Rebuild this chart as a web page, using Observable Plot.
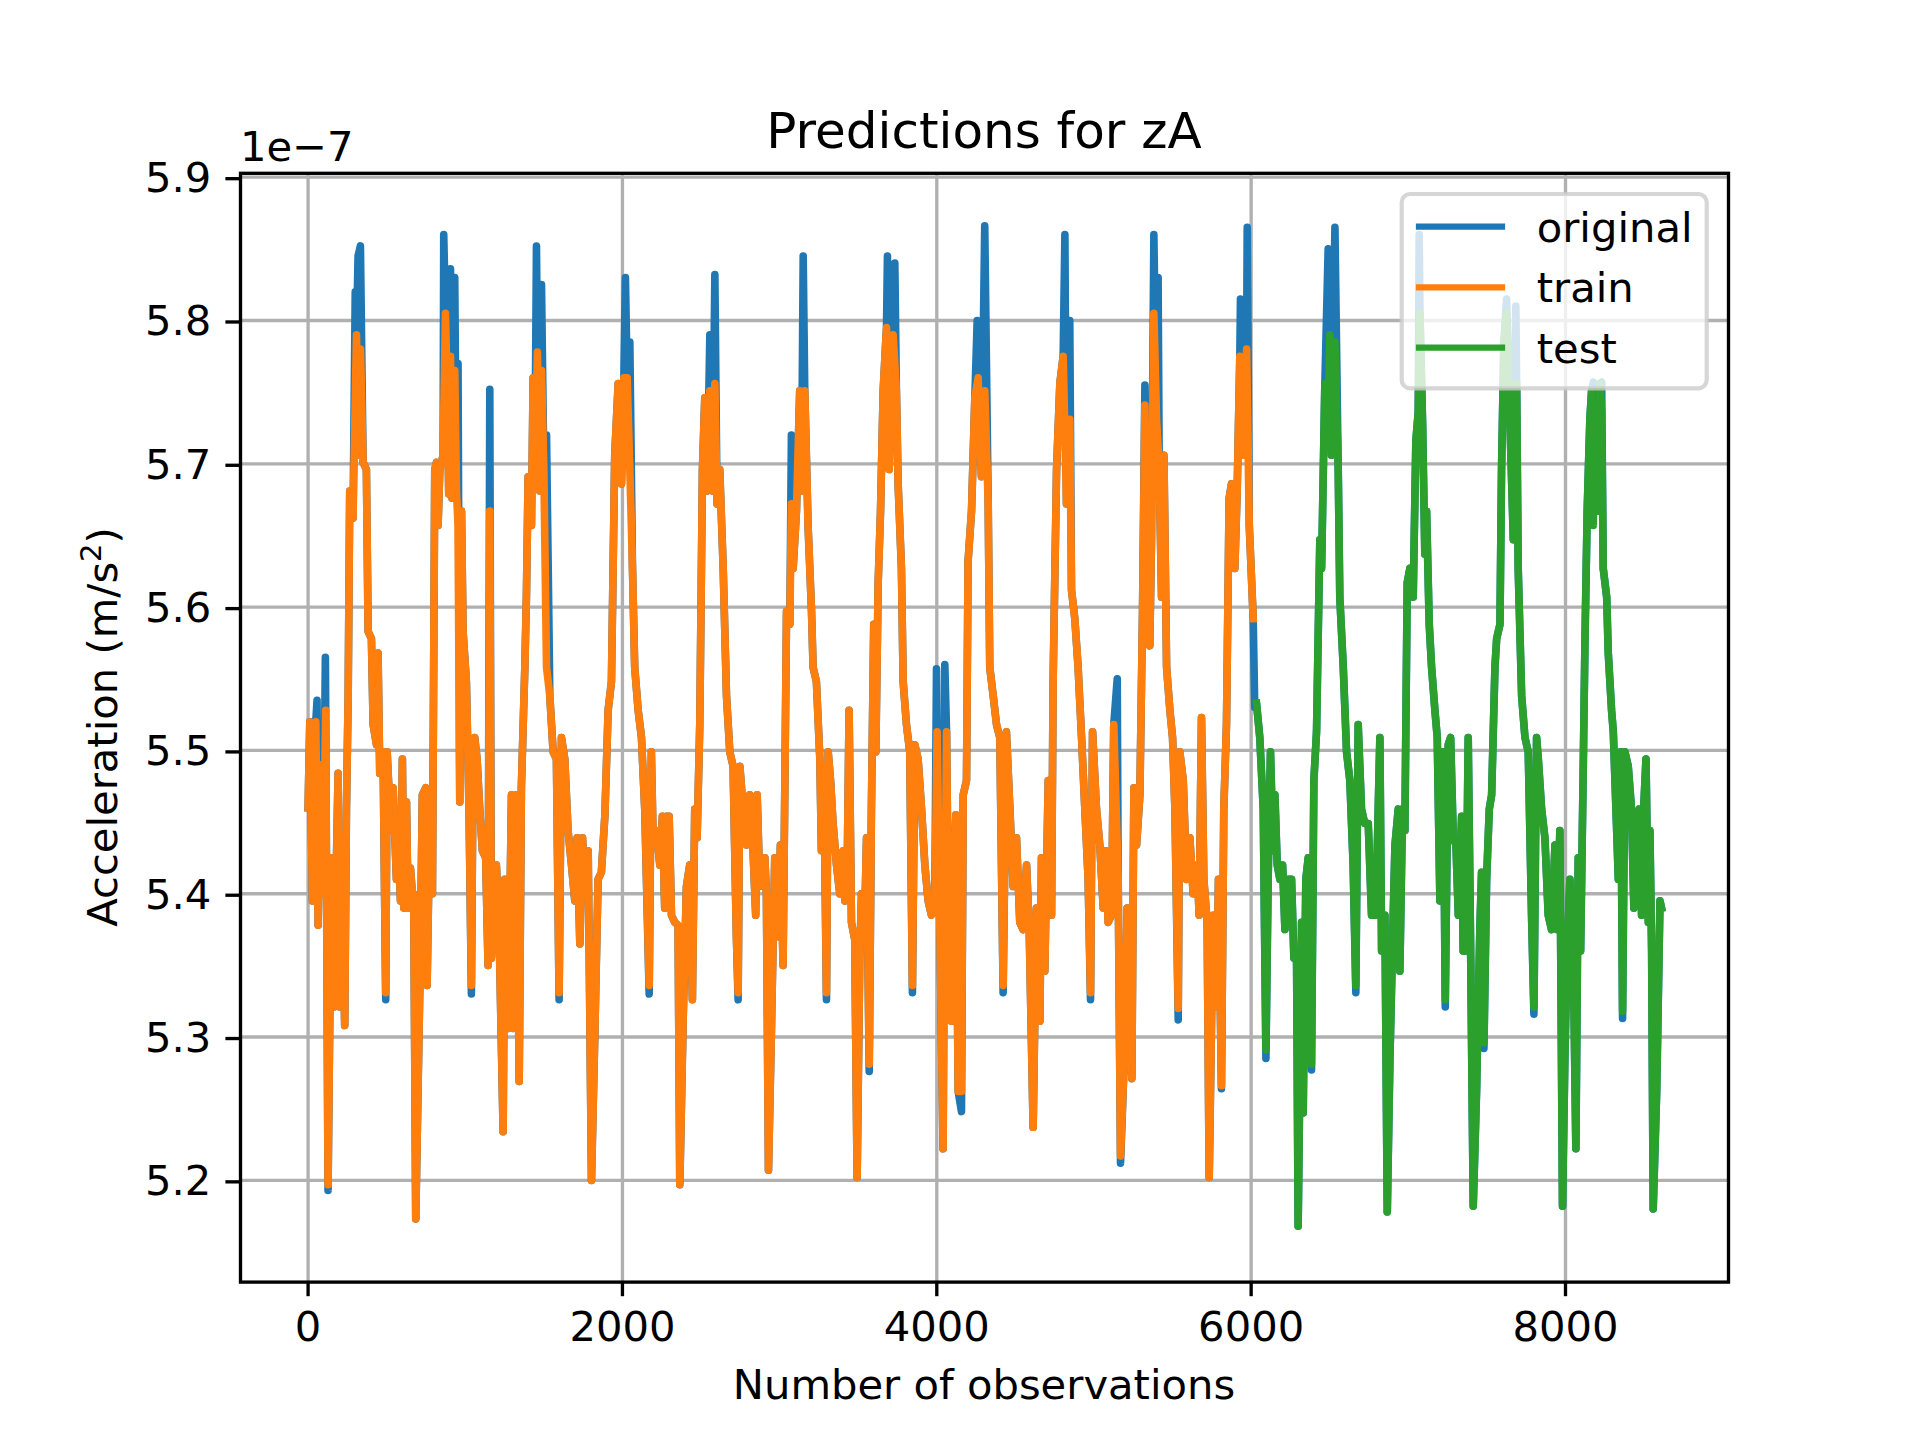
<!DOCTYPE html>
<html>
<head>
<meta charset="utf-8">
<script src="https://cdn.jsdelivr.net/npm/d3@7"></script>
<script src="https://cdn.jsdelivr.net/npm/@observablehq/plot@0.6"></script>
<style>
  html, body { margin: 0; padding: 0; background: #ffffff; }
  #chart svg { display: block; }
</style>
</head>
<body>
<div id="chart"></div>
<script>
// ---- data (acceleration values in units of 1e-7 m/s^2) ----
const trainObs = [0,11,28,49,64,78,95,112,127,148,163,191,201,212,233,244,255,265,286,308,318,333,350,371,382,403,414,435,445,456,477,494,503,520,530,541,562,573,588,600,609,626,636,651,664,672,685,711,727,749,757,774,791,806,817,827,838,859,874,884,895,906,916,933,944,954,965,976,986,1007,1024,1039,1050,1060,1075,1092,1109,1130,1145,1156,1166,1198,1215,1241,1251,1273,1294,1304,1326,1343,1357,1379,1389,1400,1421,1432,1442,1459,1474,1485,1500,1517,1538,1559,1580,1597,1612,1633,1654,1676,1697,1712,1729,1746,1760,1782,1803,1824,1845,1866,1888,1909,1930,1951,1973,1994,2009,2030,2047,2064,2078,2100,2121,2142,2170,2184,2195,2216,2238,2254,2269,2280,2297,2312,2333,2354,2365,2386,2407,2428,2445,2460,2475,2492,2509,2524,2539,2556,2573,2588,2602,2619,2641,2662,2683,2704,2725,2736,2747,2768,2789,2810,2831,2848,2857,2874,2891,2906,2916,2929,2948,2969,2990,3005,3022,3044,3065,3075,3086,3107,3128,3139,3160,3181,3203,3213,3234,3256,3266,3281,3298,3309,3324,3340,3362,3383,3404,3415,3430,3442,3457,3478,3493,3510,3521,3542,3553,3570,3584,3599,3612,3627,3642,3659,3680,3697,3712,3722,3743,3754,3775,3786,3807,3828,3845,3860,3881,3903,3924,3945,3966,3987,4002,4019,4040,4062,4072,4093,4104,4121,4136,4157,4168,4189,4199,4221,4242,4263,4284,4305,4327,4337,4359,4380,4401,4422,4443,4465,4486,4507,4528,4549,4571,4588,4613,4634,4656,4666,4687,4709,4730,4740,4762,4783,4804,4825,4846,4857,4878,4899,4921,4942,4963,4978,4991,5016,5037,5059,5075,5090,5112,5126,5154,5169,5190,5211,5228,5241,5254,5271,5292,5309,5324,5339,5355,5366,5381,5398,5415,5430,5445,5462,5483,5500,5515,5536,5546,5568,5589,5610,5631,5657,5669,5684,5699,5720,5733,5758,5780,5792,5811,5826,5843,5860,5875,5896,5911,5928,5949,5971,5988,6013];
const trainVal = [5.46,5.52,5.395,5.52,5.378,5.49,5.40,5.528,5.197,5.425,5.321,5.484,5.321,5.439,5.308,5.459,5.538,5.681,5.662,5.790,5.706,5.780,5.701,5.696,5.583,5.578,5.518,5.504,5.568,5.484,5.499,5.331,5.499,5.459,5.444,5.474,5.410,5.439,5.395,5.494,5.390,5.464,5.390,5.418,5.400,5.400,5.173,5.336,5.469,5.474,5.336,5.449,5.400,5.696,5.701,5.657,5.696,5.706,5.805,5.756,5.679,5.775,5.676,5.765,5.681,5.657,5.464,5.667,5.583,5.548,5.459,5.336,5.494,5.509,5.494,5.459,5.430,5.425,5.350,5.667,5.355,5.420,5.375,5.234,5.410,5.306,5.469,5.306,5.469,5.269,5.474,5.558,5.607,5.691,5.657,5.760,5.686,5.778,5.681,5.765,5.696,5.558,5.538,5.499,5.494,5.331,5.509,5.494,5.444,5.420,5.395,5.439,5.365,5.439,5.410,5.430,5.200,5.301,5.410,5.415,5.454,5.528,5.548,5.706,5.756,5.686,5.760,5.760,5.696,5.627,5.558,5.528,5.509,5.459,5.336,5.499,5.439,5.444,5.420,5.454,5.390,5.454,5.454,5.385,5.380,5.378,5.197,5.311,5.405,5.420,5.326,5.459,5.439,5.518,5.696,5.746,5.681,5.751,5.681,5.756,5.672,5.696,5.627,5.538,5.499,5.489,5.370,5.331,5.489,5.459,5.434,5.469,5.430,5.385,5.469,5.405,5.410,5.425,5.400,5.207,5.306,5.425,5.370,5.434,5.350,5.597,5.588,5.672,5.627,5.667,5.751,5.681,5.751,5.657,5.597,5.558,5.548,5.494,5.430,5.489,5.331,5.499,5.479,5.449,5.420,5.400,5.430,5.395,5.415,5.528,5.380,5.368,5.202,5.355,5.400,5.385,5.439,5.281,5.459,5.588,5.499,5.617,5.667,5.751,5.795,5.696,5.756,5.790,5.751,5.686,5.627,5.548,5.518,5.499,5.336,5.504,5.494,5.459,5.420,5.395,5.385,5.390,5.513,5.380,5.222,5.513,5.405,5.311,5.405,5.455,5.262,5.262,5.469,5.479,5.632,5.667,5.746,5.760,5.691,5.751,5.672,5.558,5.538,5.518,5.509,5.336,5.513,5.459,5.405,5.439,5.380,5.375,5.420,5.375,5.237,5.390,5.311,5.425,5.346,5.479,5.385,5.548,5.696,5.756,5.775,5.672,5.731,5.612,5.592,5.558,5.509,5.459,5.410,5.331,5.513,5.459,5.434,5.390,5.430,5.380,5.385,5.518,5.410,5.217,5.276,5.390,5.311,5.271,5.474,5.434,5.469,5.597,5.741,5.588,5.573,5.647,5.805,5.731,5.696,5.607,5.706,5.558,5.528,5.509,5.459,5.320,5.499,5.479,5.410,5.439,5.400,5.420,5.385,5.523,5.410,5.380,5.202,5.385,5.321,5.410,5.266,5.459,5.518,5.676,5.686,5.627,5.681,5.775,5.706,5.780,5.657,5.592];

const testObs = [6034,6055,6077,6094,6108,6123,6140,6151,6166,6183,6200,6215,6236,6257,6272,6289,6299,6321,6331,6348,6363,6384,6399,6416,6437,6448,6469,6490,6501,6511,6533,6554,6564,6586,6607,6628,6649,6666,6681,6702,6723,6745,6766,6787,6798,6819,6830,6851,6866,6883,6904,6915,6936,6946,6963,6978,6993,7010,7031,7048,7063,7074,7091,7105,7116,7133,7148,7169,7184,7201,7222,7235,7254,7269,7286,7303,7318,7339,7349,7366,7381,7396,7413,7434,7455,7466,7481,7498,7515,7530,7551,7562,7583,7593,7608,7625,7646,7668,7689,7699,7721,7742,7763,7784,7799,7816,7827,7848,7869,7890,7911,7933,7948,7964,7981,7996,8011,8028,8049,8066,8081,8096,8113,8124,8138,8155,8166,8177,8187,8198,8219,8230,8240,8262,8272,8293,8304,8321,8336,8351,8363,8378,8399,8420,8435,8452,8469,8484,8495,8512,8527,8537,8548,8558,8580,8601,8611];
const testVal = [5.533,5.509,5.459,5.291,5.410,5.499,5.430,5.469,5.420,5.410,5.420,5.375,5.410,5.410,5.355,5.355,5.168,5.380,5.247,5.410,5.425,5.281,5.479,5.513,5.647,5.627,5.756,5.726,5.790,5.706,5.785,5.696,5.607,5.558,5.499,5.479,5.420,5.336,5.518,5.459,5.449,5.449,5.385,5.385,5.410,5.509,5.360,5.385,5.178,5.286,5.385,5.434,5.459,5.346,5.459,5.444,5.617,5.627,5.607,5.716,5.736,5.805,5.726,5.637,5.667,5.588,5.558,5.528,5.509,5.395,5.499,5.326,5.504,5.509,5.439,5.434,5.385,5.454,5.360,5.360,5.509,5.365,5.182,5.262,5.375,5.415,5.296,5.410,5.459,5.469,5.558,5.578,5.588,5.696,5.785,5.805,5.731,5.647,5.756,5.627,5.538,5.509,5.499,5.385,5.321,5.509,5.494,5.459,5.439,5.385,5.375,5.434,5.375,5.444,5.182,5.286,5.360,5.410,5.360,5.222,5.425,5.360,5.489,5.578,5.667,5.731,5.751,5.657,5.741,5.667,5.756,5.736,5.627,5.607,5.568,5.528,5.513,5.459,5.410,5.499,5.318,5.499,5.489,5.459,5.390,5.444,5.459,5.385,5.454,5.494,5.380,5.444,5.360,5.180,5.262,5.395,5.390];

// original series: points where it departs from the predictions (blue peaks above, tips below)
const originalPeakObs = [57,110,300,318,333,863,906,933,954,1156,1453,1485,1517,2019,2047,2556,2588,3075,3150,3686,3733,3998,4051,4257,4305,4815,4846,5148,5324,5381,5408,5932,5975,6023,6490,6533,7069,7625,7684,8177,8230];
const originalPeakVal = [5.535,5.565,5.82,5.845,5.852,5.86,5.836,5.83,5.77,5.752,5.852,5.825,5.72,5.83,5.785,5.79,5.832,5.72,5.845,5.845,5.84,5.557,5.56,5.80,5.866,5.86,5.80,5.55,5.755,5.86,5.83,5.815,5.865,5.53,5.85,5.865,5.86,5.815,5.81,5.757,5.757];
const originalDipObs = [127,494,1039,1597,2170,2736,3298,3570,3845,4157,4422,4978,5169,5536,5811,6094,6384,6666,7235,7481,7799,8363];
const originalDipVal = [5.193,5.326,5.330,5.326,5.330,5.326,5.326,5.276,5.331,5.248,5.331,5.326,5.212,5.312,5.264,5.285,5.277,5.331,5.321,5.292,5.316,5.313];

const xTicks = [0, 2000, 4000, 6000, 8000];
const yTicks = [5.2, 5.3, 5.4, 5.5, 5.6, 5.7, 5.8, 5.9];
const seriesNames = ["original", "train", "test"];
const seriesColors = ["#1f77b4", "#ff7f0e", "#2ca02c"];

// ---- tables ----
const train = trainObs.map((x, i) => ({x, y: trainVal[i]}));
const test = testObs.map((x, i) => ({x, y: testVal[i]}));
const origMap = new Map();
train.forEach(d => origMap.set(d.x, d.y));
test.forEach(d => origMap.set(d.x, d.y));
originalPeakObs.forEach((x, i) => origMap.set(x, originalPeakVal[i]));
originalDipObs.forEach((x, i) => origMap.set(x, originalDipVal[i]));
const original = Array.from(origMap, ([x, y]) => ({x, y})).sort((a, b) => a.x - b.x);

const FONT = "DejaVu Sans";
const LW = 6.25;      // legend handle width (1.5pt)
const DLW = 7.6;      // data line width (dense series look a bit heavier)
const lineOpts = (c) => ({x: "x", y: "y", stroke: c, strokeWidth: DLW, strokeLinejoin: "round", strokeLinecap: "square"});

const chart = Plot.plot({
  width: 1920,
  height: 1440,
  marginLeft: 240,
  marginRight: 192,
  marginTop: 172.8,
  marginBottom: 158.4,
  style: {fontFamily: FONT, fontSize: "41.7px", color: "black", background: "white"},
  x: {domain: [-430, 9037]},
  y: {domain: [5.129, 5.9027]},
  marks: [
    Plot.gridX(xTicks, {stroke: "#b0b0b0", strokeOpacity: 1, strokeWidth: 3.33}),
    Plot.gridY(yTicks, {stroke: "#b0b0b0", strokeOpacity: 1, strokeWidth: 3.33}),
    Plot.line(original, lineOpts(seriesColors[0])),
    Plot.line(train, lineOpts(seriesColors[1])),
    Plot.line(test, lineOpts(seriesColors[2])),
    Plot.frame({stroke: "black", strokeWidth: 3.33}),
    Plot.axisX(xTicks, {tickSize: 14.6, tickPadding: 14.6, strokeWidth: 3.33, fontSize: 41.7, label: null, tickFormat: d => String(d)}),
    Plot.axisY(yTicks, {tickSize: 14.6, tickPadding: 14.6, strokeWidth: 3.33, fontSize: 41.7, label: null, tickFormat: d => d.toFixed(1), dy: 1.5})
  ]
});
document.getElementById("chart").appendChild(chart);

// ---- texts and legend ----
const svg = d3.select(chart);
const txt = (x, y, s, size, anchor) => svg.append("text")
  .attr("x", x).attr("y", y).attr("font-family", FONT).attr("font-size", size)
  .attr("text-anchor", anchor).attr("fill", "black").text(s);

txt(984, 148, "Predictions for zA", 50, "middle");
txt(240, 161, "1e\u22127", 41.7, "start");
txt(984, 1399, "Number of observations", 41.7, "middle");

const yl = svg.append("text")
  .attr("transform", "translate(117,727) rotate(-90)")
  .attr("font-family", FONT).attr("font-size", 41.7)
  .attr("text-anchor", "middle").attr("fill", "black");
yl.append("tspan").text("Acceleration (m/s");
yl.append("tspan").attr("font-size", 29).attr("dy", -16).text("2");
yl.append("tspan").attr("dy", 16).text(")");

const lg = svg.append("g");
lg.append("rect")
  .attr("x", 1401.7).attr("y", 194).attr("width", 305).attr("height", 194.3)
  .attr("rx", 8.3).attr("ry", 8.3)
  .attr("fill", "white").attr("fill-opacity", 0.8)
  .attr("stroke", "#cccccc").attr("stroke-opacity", 0.8).attr("stroke-width", 4.17);
const lgY = [226.7, 287.3, 347.6];
seriesNames.forEach((name, i) => {
  lg.append("line")
    .attr("x1", 1419).attr("x2", 1502).attr("y1", lgY[i]).attr("y2", lgY[i])
    .attr("stroke", seriesColors[i]).attr("stroke-width", LW).attr("stroke-linecap", "square");
  lg.append("text")
    .attr("x", 1536.7).attr("y", lgY[i] + 15)
    .attr("font-family", FONT).attr("font-size", 41.7).attr("fill", "black")
    .attr("text-anchor", "start")
    .text(name);
});
</script>
</body>
</html>
